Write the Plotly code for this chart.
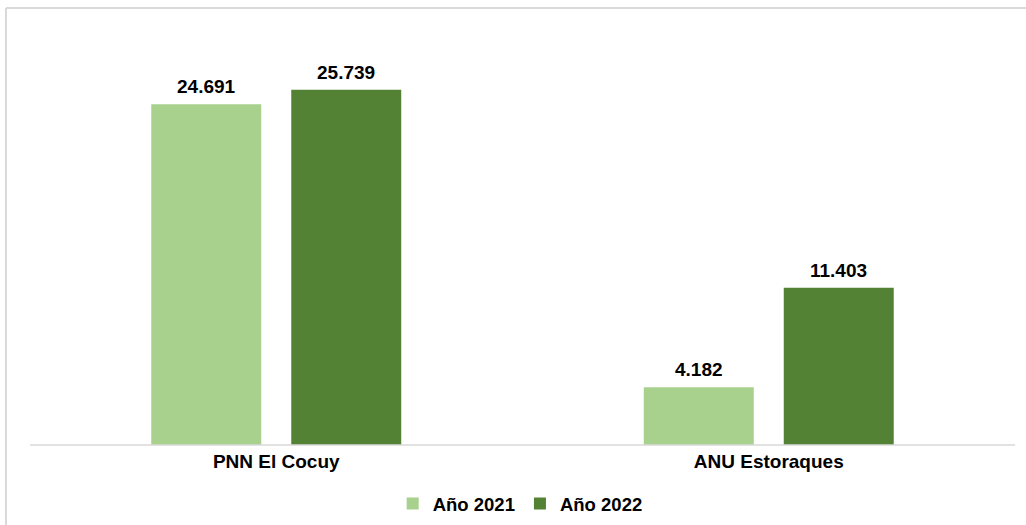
import plotly.graph_objects as go

categories = ["PNN El Cocuy", "ANU Estoraques"]
series_names = ["Año 2021", "Año 2022"]
values_2021 = [24691, 4182]
values_2022 = [25739, 11403]
colors = ["#A9D18E", "#548235"]

FONT = "Arial, Liberation Sans, sans-serif"

fig = go.Figure()
for name, vals, col in zip(series_names, [values_2021, values_2022], colors):
    fig.add_trace(go.Bar(
        x=categories, y=vals, name=name, marker=dict(color=col, line=dict(width=0)),
    ))

annotations = []
for shift, vals in zip([-70, 70], [values_2021, values_2022]):
    for cat, v in zip(categories, vals):
        annotations.append(dict(
            x=cat, y=v, xref="x", yref="y", xshift=shift, yshift=5,
            yanchor="bottom", xanchor="center", showarrow=False,
            text=f"{v:,}".replace(",", "."),
            font=dict(family=FONT, size=19, color="#000000", weight="bold"),
        ))

BORDER = "#D9D9D9"
fig.update_layout(
    width=1026, height=525,
    margin=dict(l=30, r=11, t=31, b=80, autoexpand=False),
    paper_bgcolor="white", plot_bgcolor="white",
    barmode="group", bargap=0.4315, bargroupgap=0.2143,
    showlegend=True,
    legend=dict(orientation="h", x=0.507, xanchor="center", xref="container",
                y=1 - 504 / 525, yanchor="middle", yref="container",
                font=dict(family=FONT, size=18.5, color="#000000", weight="bold"),
                itemwidth=30, traceorder="normal"),
    xaxis=dict(showline=False, ticks="", zeroline=False,
               tickfont=dict(family=FONT, size=19, color="#000000", weight="bold"),
               showgrid=False, ticklabelstandoff=3, automargin=False),
    yaxis=dict(range=[0, 30000], visible=False, showgrid=False, zeroline=False),
    annotations=annotations,
    shapes=[
        dict(type="line", xref="paper", yref="paper", x0=-0.0244, x1=1.2, y0=1.0556, y1=1.0556,
             line=dict(color=BORDER, width=2)),
        dict(type="line", xref="paper", yref="paper", x0=-0.0244, x1=-0.0244, y0=-0.5, y1=1.0556,
             line=dict(color=BORDER, width=2)),
        dict(type="line", xref="paper", yref="paper", x0=0, x1=1, y0=0, y1=0,
             line=dict(color=BORDER, width=1.5)),
    ],
)

fig.write_html("out.html", config={"displayModeBar": False},
               post_script="document.body.style.margin='0';")
